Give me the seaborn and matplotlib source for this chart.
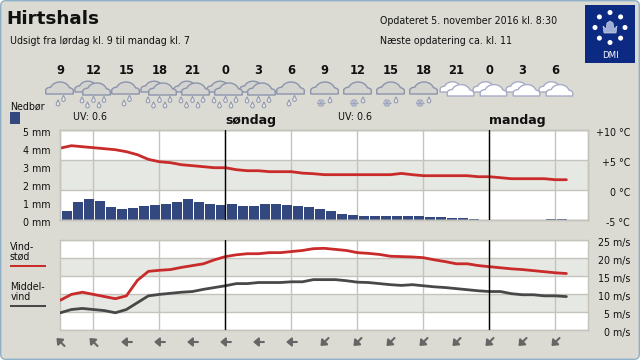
import numpy as np
import pandas as pd
import matplotlib
matplotlib.use("Agg")
import matplotlib.pyplot as plt
from matplotlib.patches import FancyBboxPatch, Polygon, Circle, Rectangle
from matplotlib.transforms import ScaledTranslation
import seaborn as sns

# ---------- data ----------
hour_labels = [9, 12, 15, 18, 21, 0, 3, 6, 9, 12, 15, 18, 21, 0, 3, 6]
sky = ["rain", "heavy", "rain", "heavy", "heavy", "heavy", "heavy", "rain",
       "snow", "snow", "snow", "snow", "cloud", "cloud", "cloud", "cloud"]
wind_dir = ["NW", "NW", "W", "W", "W", "W", "W", "W",
            "SW", "SW", "SW", "SW", "SW", "SW", "SW", "SW"]
precip_mm = [0.50, 1.05, 1.17, 1.10, 0.72, 0.61, 0.67, 0.78, 0.83, 0.89, 1.05, 1.17,
             1.05, 0.89, 0.83, 0.89, 0.78, 0.78, 0.89, 0.89, 0.83, 0.78, 0.72, 0.61,
             0.50, 0.33, 0.28, 0.22, 0.22, 0.22, 0.22, 0.22, 0.22, 0.17, 0.17, 0.11,
             0.11, 0.06, 0, 0, 0, 0, 0, 0, 0.06, 0.06]
temp_c = [7.05, 7.45, 7.28, 7.12, 6.95, 6.78, 6.45, 5.95, 5.17, 4.78, 4.62, 4.28,
          4.12, 3.95, 3.78, 3.78, 3.45, 3.28, 3.28, 3.12, 3.12, 3.12, 2.88, 2.78,
          2.62, 2.62, 2.62, 2.62, 2.62, 2.62, 2.62, 2.83, 2.62, 2.45, 2.45, 2.45,
          2.45, 2.45, 2.28, 2.28, 2.12, 1.95, 1.95, 1.95, 1.95, 1.78, 1.78]
gust_ms = [8.4, 10.0, 10.6, 10.0, 9.4, 8.8, 9.6, 13.9, 16.4, 16.7, 16.9, 17.5, 18.0, 18.5,
           19.6, 20.5, 21.0, 21.3, 21.3, 21.6, 21.6, 21.9, 22.2, 22.7, 22.8, 22.5, 22.2,
           21.6, 21.4, 21.1, 20.6, 20.5, 20.4, 20.2, 19.6, 19.1, 18.5, 18.5, 18.0, 17.7,
           17.4, 17.1, 16.9, 16.6, 16.3, 16.0, 15.8]
mean_ms = [4.9, 5.8, 6.1, 5.8, 5.5, 4.9, 5.8, 7.7, 9.6, 10.0, 10.3, 10.6, 10.8, 11.4, 11.9,
           12.4, 13.0, 13.0, 13.3, 13.3, 13.3, 13.5, 13.5, 14.1, 14.1, 14.1, 13.8, 13.4,
           13.3, 13.0, 12.7, 12.5, 12.7, 12.4, 12.1, 11.9, 11.6, 11.3, 11.0, 10.8, 10.8,
           10.2, 9.9, 9.9, 9.6, 9.6, 9.4]

hours = np.arange(len(temp_c))
bar_hours = np.arange(len(precip_mm)) + 0.6

# ---------- colours ----------
BG = "#DBDBD3"; BAND = "#E6E8E3"; GRID = "#C4C4BC"; RED = "#C92A2A"; DARK = "#484848"
BAR = "#344880"; BORDER = "#8FB0C8"; NAVY = "#0C2A82"; TXT = "#111111"
C_EDGE = "#8C94AC"; C_FILL = "#D3D3CF"; W_EDGE = "#A6ABC6"; ARROW = "#666666"

sns.set_style("white")
plt.rcParams["font.family"] = ["DejaVu Sans"]
FS = 6.85

W, H = 640, 360
fig = plt.figure(figsize=(W / 100, H / 100), dpi=100, facecolor="white")

# ---------- background layer in pixel coordinates ----------
bg = fig.add_axes([0, 0, 1, 1], zorder=-1)
bg.set_xlim(0, W); bg.set_ylim(H, 0); bg.axis("off")
bg.add_patch(FancyBboxPatch((0.7, 0.7), W - 1.4, H - 1.4, boxstyle="round,pad=0,rounding_size=5",
                            fc=BG, ec=BORDER, lw=1.0))

def txt(x, y, s, size=FS, weight="normal", ha="left", color=TXT):
    return bg.text(x, y, s, fontsize=size, fontweight=weight, ha=ha, va="center", color=color)

txt(6, 19, "Hirtshals", size=13.2, weight="bold")
txt(10.5, 41.5, "Udsigt fra lørdag kl. 9 til mandag kl. 7")
txt(380.5, 21.5, "Opdateret 5. november 2016 kl. 8:30")
txt(380.5, 41.5, "Næste opdatering ca. kl. 11")
txt(10.5, 106.5, "Nedbør")
bg.add_patch(Rectangle((10, 112), 10, 12, fc=BAR, ec="none"))
txt(73, 116.5, "UV: 0.6")
txt(337.5, 116.5, "UV: 0.6")
txt(225.5, 120.5, "søndag", size=9, weight="bold")
txt(489.5, 120.5, "mandag", size=9, weight="bold")
txt(10, 246.5, "Vind-"); txt(10, 256.5, "stød")
bg.plot([10, 46], [266, 266], color=RED, lw=1.45, solid_capstyle="butt")
txt(10.5, 286.5, "Middel-"); txt(10.5, 297, "vind")
bg.plot([10, 46], [306, 306], color=DARK, lw=1.45, solid_capstyle="butt")

# logo
bg.add_patch(Rectangle((585, 5), 50, 57.7, fc=NAVY, ec="none"))
for a in np.deg2rad(np.arange(0, 360, 45)):
    bg.add_patch(Circle((610 + 15 * np.cos(a), 27.5 + 15 * np.sin(a)), 2.5, fc="white", ec="none"))
bg.add_patch(Polygon([(604, 33), (603, 26), (606, 29), (607, 23), (610, 21), (613, 23), (614, 29),
                      (617, 26), (616, 33)], closed=True, fc="#9FAED6", ec="#C5CEE6", lw=0.5))
bg.text(610, 55.5, "DMI", fontsize=6.2, color="white", ha="center", va="center")

# weather icons
def cloud(cx, base, fill, edge, s=1.0, z=2):
    lobes = [(0.5, -4, 9.8, 8), (-8.5, -3.2, 5.5, 3.6), (8.5, -3.0, 5.5, 3.4)]
    xs = np.linspace(-14, 14, 120)
    top = np.zeros_like(xs)
    for dx, dy, rx, ry in lobes:
        u = np.clip(1 - ((xs / s - dx) / rx) ** 2, 0, None)
        curve = np.where(u > 0, -dy + ry * np.sqrt(u), 0)
        top = np.maximum(top, curve)
    keep = top > 0
    pts = np.column_stack([cx + xs[keep], base - s * top[keep]])
    pts = np.vstack([[pts[0, 0], base], pts, [pts[-1, 0], base]])
    bg.add_patch(Polygon(pts, closed=True, fc=fill, ec=edge, lw=1.0, zorder=z))

def drop(x, y):
    t = np.linspace(-0.25, 1.25, 24) * np.pi
    pts = np.column_stack([x + 1.8 * np.cos(t), y + 1.0 + 1.9 * np.sin(t)])
    pts = np.vstack([[x, y - 3.2], pts])
    bg.add_patch(Polygon(pts, closed=True, fc="#E4E6EA", ec=C_EDGE, lw=0.7, zorder=3))

def flake(x, y):
    bg.add_patch(Circle((x, y), 3.2, fc="#C9CCD6", ec="#A2A8BC", lw=0.6, zorder=3))
    for a in np.deg2rad([0, 60, 120]):
        dx, dy = 3.6 * np.cos(a), 3.6 * np.sin(a)
        bg.plot([x - dx, x + dx], [y - dy, y + dy], color="#9AA1B8", lw=0.6, zorder=4)

X0, STEP = 60.5, 33.0
for k, (lab, kind, d) in enumerate(zip(hour_labels, sky, wind_dir)):
    x = X0 + k * STEP
    bg.text(x, 70.5, str(lab), fontsize=8.3, fontweight="bold", ha="center", va="center", color=TXT)
    if kind == "rain":
        cloud(x - 1, 94, C_FILL, C_EDGE)
        drop(x - 2.5, 103); drop(x + 3, 98.5)
    elif kind == "heavy":
        cloud(x - 6, 92, C_FILL, C_EDGE, s=0.9)
        cloud(x + 3, 95, C_FILL, C_EDGE, s=1.0, z=3)
        for dx, dy in [(-11.5, 100), (-6, 105), (0, 99.5), (5.5, 105), (10.5, 99.5)]:
            drop(x + dx, dy)
    elif kind == "snow":
        cloud(x, 94, C_FILL, C_EDGE)
        flake(x - 3.5, 103); drop(x + 5.5, 100)
    else:
        cloud(x - 4.5, 92, "white", W_EDGE, s=0.85)
        cloud(x + 4, 96, "white", W_EDGE, s=0.95, z=3)
    v = {"NW": (-1, -1), "W": (-1.35, 0), "SW": (-1, 1)}[d]
    bg.annotate("", xy=(x + 4 * v[0], 342 + 4 * v[1]), xytext=(x - 4 * v[0], 342 - 4 * v[1]),
                arrowprops=dict(arrowstyle="-|>,head_width=0.32,head_length=0.38", color=ARROW,
                                lw=1.5, shrinkA=0, shrinkB=0, mutation_scale=8))

# ---------- panels ----------
def panel(top_px, bottom_px):
    ax = fig.add_axes([60.4 / W, 1 - bottom_px / H, 528 / W, (bottom_px - top_px) / H], zorder=1)
    ax.set_facecolor("white")
    ax.set_xlim(0, 48)
    ax.set_xticks(np.arange(3, 48, 6))
    ax.set_xticklabels([])
    ax.tick_params(axis="x", length=0)
    ax.grid(axis="x", color=GRID, lw=1.0)
    ax.set_axisbelow(True)
    for sp in ax.spines.values():
        sp.set_color(GRID); sp.set_linewidth(1.0); sp.set_visible(True)
    return ax

shift = ScaledTranslation(0, -1.4 / 100, fig.dpi_scale_trans)
def nudge(ax_):
    for lab in ax_.get_yticklabels():
        lab.set_transform(lab.get_transform() + shift)

# precipitation + temperature
ax1 = panel(130.4, 220.4)
ax1.axhspan(5 / 3, 10 / 3, color=BAND, lw=0, zorder=0)
sns.barplot(x=bar_hours, y=precip_mm, native_scale=True, width=0.91, color=BAR,
            saturation=1, linewidth=0, ax=ax1, zorder=2)
ax1.set_xlim(0, 48); ax1.set_ylim(0, 5)
ax1.set_xticks(np.arange(3, 48, 6)); ax1.set_xticklabels([])
ax1.set_yticks(range(6)); ax1.set_yticklabels([f"{i} mm" for i in range(6)], fontsize=FS, color=TXT)
ax1.tick_params(axis="y", length=0, pad=7.1)
ax1.grid(axis="y", visible=False); ax1.set_xlabel(""); ax1.set_ylabel("")
nudge(ax1)

tw1 = ax1.twinx()
tw1.set_ylim(-5, 10)
tw1.set_yticks([-5, 0, 5, 10])
tw1.grid(axis="y", color=GRID, lw=1.0)
sns.lineplot(x=hours, y=temp_c, color=RED, lw=2.0, errorbar=None, ax=tw1)
tw1.set_ylim(-5, 10); tw1.set_ylabel("")
tw1.set_yticklabels(["-5 °C", "0 °C", "+5 °C", "+10 °C"], fontsize=FS, color=TXT, ha="right")
tw1.tick_params(axis="y", length=0, pad=29.9)
for sp in tw1.spines.values():
    sp.set_color(GRID); sp.set_linewidth(1.0)
nudge(tw1)
for h in (15, 39):
    tw1.axvline(h, color="black", lw=1.0, zorder=3)

# wind
ax2 = panel(240.4, 330.4)
for lo, hi in ((5, 10), (15, 20)):
    ax2.axhspan(lo, hi, color=BAND, lw=0, zorder=0)
sns.lineplot(x=hours, y=gust_ms, color=RED, lw=2.0, errorbar=None, ax=ax2, zorder=3)
sns.lineplot(x=hours, y=mean_ms, color=DARK, lw=2.0, errorbar=None, ax=ax2, zorder=3)
ax2.set_xlim(0, 48); ax2.set_ylim(0, 25); ax2.set_ylabel("")
ax2.set_yticks(range(0, 26, 5))
ax2.grid(axis="y", color=GRID, lw=1.0)
ax2.yaxis.tick_right()
ax2.set_yticklabels([f"{v} m/s" for v in range(0, 26, 5)], fontsize=FS, color=TXT, ha="right")
ax2.tick_params(axis="y", length=0, pad=29.9)
nudge(ax2)
for h in (15, 39):
    ax2.axvline(h, color="black", lw=1.0, zorder=4)

fig.savefig("out.png", dpi=100, facecolor="white")
